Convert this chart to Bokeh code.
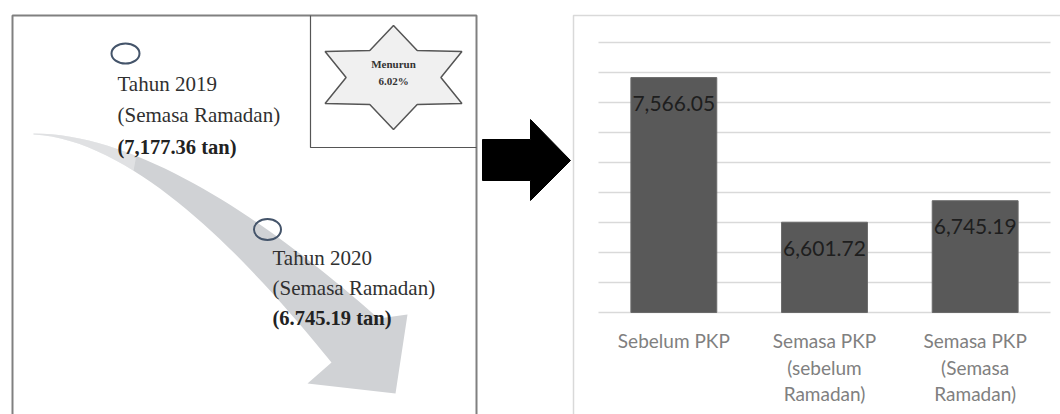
import numpy as np
from bokeh.plotting import figure
from bokeh.models import Range1d
from bokeh.core.properties import value
from bokeh.embed import file_html
from bokeh.resources import INLINE

# ---------------- data ----------------
categories = ["Sebelum PKP", "Semasa PKP\n(sebelum\nRamadan)", "Semasa PKP\n(Semasa\nRamadan)"]
values = [7566.05, 6601.72, 6745.19]
value_labels = ["7,566.05", "6,601.72", "6,745.19"]
grid_values = [6000, 6200, 6400, 6600, 6800, 7000, 7200, 7400, 7600, 7800]

left_year_labels = ["Tahun 2019", "Tahun 2020"]
left_period_labels = ["(Semasa Ramadan)", "(Semasa Ramadan)"]
left_amount_labels = ["(7,177.36 tan)", "(6.745.19 tan)"]
star_labels = ["Menurun", "6.02%"]

W, H = 1060, 414
p = figure(width=W, height=H, x_range=Range1d(0, W), y_range=Range1d(H, 0),
           output_backend="svg", toolbar_location=None,
           x_axis_location=None, y_axis_location=None, min_border=0)
p.grid.visible = False
p.outline_line_color = None
p.background_fill_color = "white"
p.border_fill_color = "white"

# --------- chart scales (extra ranges) ---------
cat_center_px, cat_w_px = 824.0, 150.67
base_px, px_per_unit = 312.0, 0.15
ymin = grid_values[0]
p.extra_x_ranges = {"cat": Range1d(1 - cat_center_px / cat_w_px, 1 + (W - cat_center_px) / cat_w_px)}
p.extra_y_ranges = {"val": Range1d(ymin - (H - base_px) / px_per_unit, ymin + base_px / px_per_unit)}

# ---------------- left panel ----------------
def cubic(p0, p1, p2, p3, n=40):
    t = np.linspace(0, 1, n)[:, None]
    pts = ((1 - t) ** 3) * np.array(p0) + 3 * ((1 - t) ** 2) * t * np.array(p1) \
        + 3 * (1 - t) * t ** 2 * np.array(p2) + t ** 3 * np.array(p3)
    return pts[:, 0], pts[:, 1]

tx, ty = cubic((33, 133), (150, 133), (290, 240), (378, 318))
bx, by = cubic((33, 134), (150, 140), (280, 300), (331, 362))
ax = list(tx) + [407, 395, 307] + list(bx[::-1])
ay = list(ty) + [314, 393, 383] + list(by[::-1])
p.patch(ax, ay, fill_color="#d0d2d5", line_color=None)
# fading tail
p.patch(list(tx[:12]) + list(bx[:12][::-1]), list(ty[:12]) + list(by[:12][::-1]),
        fill_color="white", fill_alpha=0.35, line_color=None)

# frame of left panel
frame_col = "#808080"
p.line([12, 12, 476, 476], [414, 15, 15, 414], line_color=frame_col, line_width=2)
p.line([310, 310, 476], [15, 147, 147], line_color="#555555", line_width=1.2)

# star
cx, cy, Rx, Ry = 393, 77, 79, 52
sx, sy = [], []
for k in range(12):
    ang = np.pi / 2 - k * np.pi / 6
    r = 1.0 if k % 2 == 0 else 0.6
    sx.append(cx + r * Rx * np.cos(ang))
    sy.append(cy - r * Ry * np.sin(ang))
p.patch(sx, sy, fill_color="#f0f0f0", line_color="#555555", line_width=1.5)
p.text(x=[393, 393], y=[63, 80], text=star_labels, text_font=value("Liberation Serif"),
       text_font_size="11px", text_font_style="bold", text_color="#333333",
       text_align="center", text_baseline="middle")

# circles
p.ellipse(x=[125, 267], y=[53, 229], width=[28, 27], height=[20, 21],
          fill_color=None, line_color="#44546a", line_width=2)

# texts
serif = value("Liberation Serif")
p.text(x=[117, 272], y=[83, 257], text=left_year_labels, text_font=serif, text_font_size="21px",
       text_color="#303030", text_align="left", text_baseline="middle")
p.text(x=[117, 272], y=[114, 287], text=left_period_labels, text_font=serif, text_font_size="21px",
       text_color="#303030", text_align="left", text_baseline="middle")
p.text(x=[117, 272], y=[146, 317], text=left_amount_labels, text_font=serif, text_font_size="20.5px",
       text_font_style="bold", text_color="#222222", text_align="left", text_baseline="middle")

# black arrow
p.patch([482, 530, 530, 570, 530, 530, 482], [139, 139, 119, 160, 200, 180, 180],
        fill_color="black", line_color="black")

# ---------------- right panel ----------------
p.line([573, 573, W], [H, 15, 15], line_color="#d9d9d9", line_width=1.5)

idx = list(range(len(categories)))
p.segment(x0=[-0.5] * len(grid_values), x1=[len(categories) - 0.5] * len(grid_values),
          y0=grid_values, y1=grid_values, x_range_name="cat", y_range_name="val",
          line_color="#d9d9d9", line_width=1.5)
p.vbar(x=idx, top=values, bottom=ymin, width=0.57, x_range_name="cat", y_range_name="val",
       fill_color="#595959", line_color="#6a6a6a", line_width=1)
p.text(x=idx, y=values, text=value_labels, x_range_name="cat", y_range_name="val",
       y_offset=26, text_font=value("Lato"), text_font_size="21px", text_color="#1e1e1e",
       text_align="center", text_baseline="middle")

lx, ly, lt = [], [], []
for i, c in enumerate(categories):
    for k, line in enumerate(c.split("\n")):
        lx.append(i)
        ly.append(340 + 26.5 * k)
        lt.append(line)
p.text(x=lx, y=ly, text=lt, x_range_name="cat", text_font=value("Lato"), text_font_size="19px",
       text_color="#808080", text_align="center", text_baseline="middle")

open("out.html", "w").write(file_html(p, INLINE))
